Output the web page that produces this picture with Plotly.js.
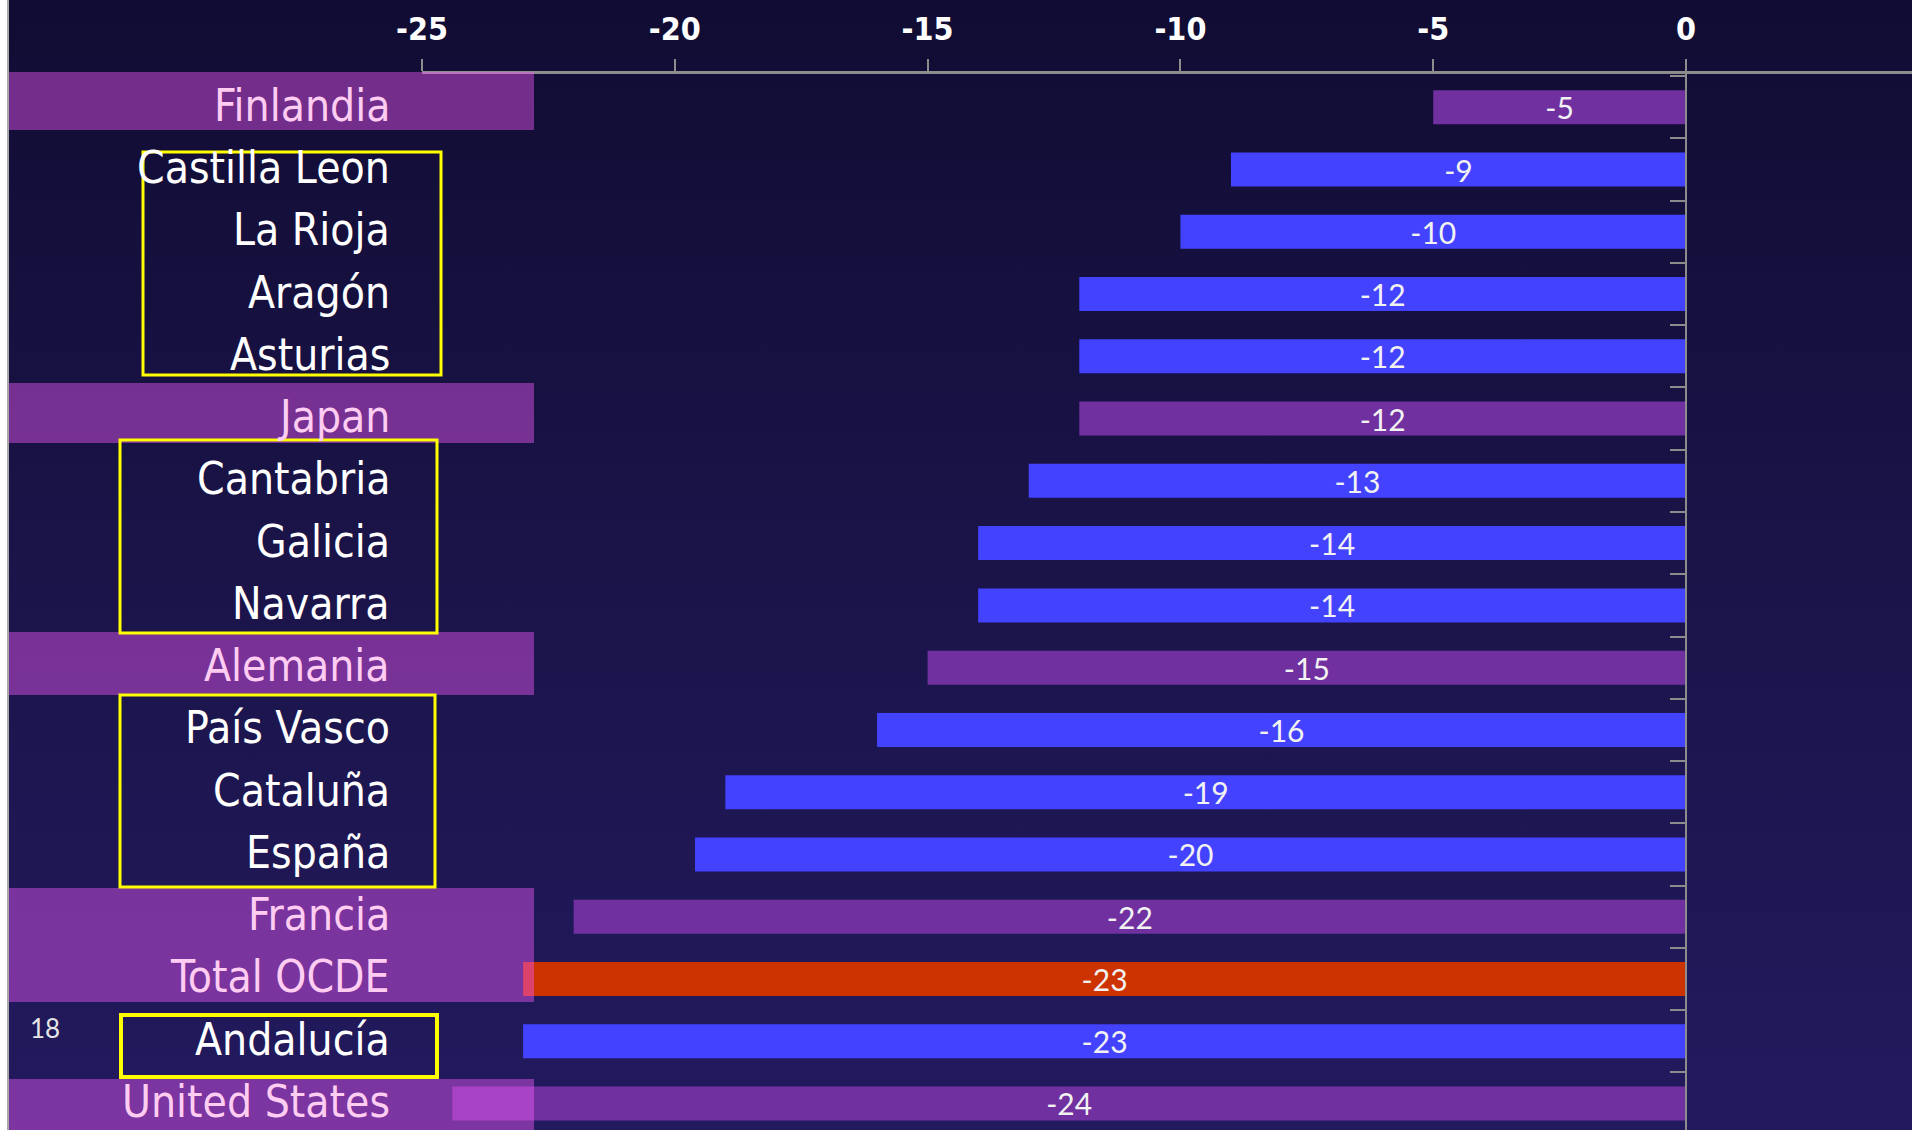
<!DOCTYPE html>
<html>
<head>
<meta charset="utf-8">
<script src="https://cdn.plot.ly/plotly-3.0.1.min.js"></script>
<style>
  html, body { margin: 0; padding: 0; background: #ffffff; }
  #chart { width: 1912px; height: 1130px; background: linear-gradient(to bottom, #110c33 0%, #1a1449 50%, #221a5e 100%); }
</style>
</head>
<body>
<div id="chart"></div>
<script>
// ---- data ----
const categories = ["Finlandia", "Castilla Leon", "La Rioja", "Aragón", "Asturias", "Japan", "Cantabria", "Galicia", "Navarra", "Alemania", "País Vasco", "Cataluña", "España", "Francia", "Total OCDE", "Andalucía", "United States"];
const values = [-5, -9, -10, -12, -12, -12, -13, -14, -14, -15, -16, -19, -19.6, -22, -23, -23, -24.4];
const kinds = ["country", "region", "region", "region", "region", "country", "region", "region", "region", "country", "region", "region", "region", "country", "oecd", "region", "country"];
const xTicks = [-25, -20, -15, -10, -5, 0];

// ---- styling ----
const kindColor = { country: "#7030a0", region: "#4343ff", oecd: "#cc3300" };
const labelColor = { country: "#ffccf2", region: "#ffffff", oecd: "#ffccf2" };
const condFont = "'DejaVu Sans Condensed', 'DejaVu Sans', sans-serif";

// pixel frame
const W = 1912, H = 1130, L = 422, T = 74;
const PW = W - L, PH = H - T;
const px = p => (p - L) / PW;          // pixel x -> paper x
const py = p => (H - p) / PH;          // pixel y -> paper y
const xMin = -25, pxPerUnit = (1686 - 422) / 25;
const xMax = xMin + PW / pxPerUnit;
const rowPitch = 62.26, firstRowCenter = 107.3;
const yTop = -(firstRowCenter - T) / rowPitch;
const yBottom = yTop + PH / rowPitch;

const barTrace = {
  type: "bar",
  orientation: "h",
  x: values,
  y: categories,
  marker: { color: kinds.map(k => kindColor[k]) },
  texttemplate: "%{x:.0f}",
  textposition: "inside",
  insidetextanchor: "middle",
  constraintext: "none",
  textangle: 0,
  textfont: { family: "Lato, 'Open Sans', sans-serif", size: 30, color: "#f2f2f2" },
  hoverinfo: "skip",
  showlegend: false
};

const gray = "#8c8c8c";
const shapes = [];
// white strip and grey line at the left edge
shapes.push({ type: "rect", xref: "paper", yref: "paper", x0: px(0), x1: px(7), y0: py(H), y1: py(0), fillcolor: "#ffffff", line: { width: 0 }, layer: "above" });
shapes.push({ type: "line", xref: "paper", yref: "paper", x0: px(8), x1: px(8), y0: py(H), y1: py(0), line: { color: "#a8a8a8", width: 2 }, layer: "above" });
// pink label boxes (countries)
const pinkBoxes = [[72, 130], [383, 443], [632, 695], [888, 1002], [1079, 1130]];
pinkBoxes.forEach(b => shapes.push({ type: "rect", xref: "paper", yref: "paper", x0: px(9), x1: px(534), y0: py(b[1]), y1: py(b[0]), fillcolor: "rgba(238,88,248,0.44)", line: { width: 0 }, layer: "above" }));
// yellow outline boxes (Spanish regions)
const yellowBoxes = [[143, 152, 441, 375, 3], [120, 440, 437, 633, 3], [120, 695, 435, 887, 3], [121, 1015, 437, 1077, 4]];
yellowBoxes.forEach(b => shapes.push({ type: "rect", xref: "paper", yref: "paper", x0: px(b[0]), x1: px(b[2]), y0: py(b[3]), y1: py(b[1]), fillcolor: "rgba(0,0,0,0)", line: { color: "#ffff00", width: b[4] }, layer: "above" }));

const annotations = categories.map((c, i) => ({
  xref: "paper", yref: "y", x: px(392), y: c, xanchor: "right", yanchor: "middle",
  text: c, showarrow: false, yshift: 2,
  font: { family: condFont, size: 44, color: labelColor[kinds[i]] }
}));
annotations.push({ xref: "paper", yref: "paper", x: px(28), y: py(1028), xanchor: "left", yanchor: "middle", text: "18", showarrow: false, font: { family: "Lato, sans-serif", size: 26, color: "#e6e6e6" } });

const layout = {
  width: W, height: H,
  margin: { l: L, r: 0, t: T, b: 0, pad: 0 },
  paper_bgcolor: "rgba(0,0,0,0)",
  plot_bgcolor: "rgba(0,0,0,0)",
  bargap: 0.454,
  showlegend: false,
  xaxis: {
    side: "top", range: [xMin, xMax], tickvals: xTicks, ticktext: xTicks.map(String),
    showline: true, linecolor: gray, linewidth: 3,
    ticks: "outside", ticklen: 12, tickwidth: 2, tickcolor: gray,
    ticklabelstandoff: 6,
    tickfont: { family: condFont, size: 32, color: "#ffffff", weight: "bold" },
    showgrid: false, zeroline: false, fixedrange: true
  },
  yaxis: {
    type: "category", categoryorder: "array", categoryarray: categories,
    range: [yBottom, yTop],
    anchor: "free", position: (0 - xMin) / (xMax - xMin),
    showline: true, linecolor: gray, linewidth: 2,
    ticks: "outside", ticklen: 15, tickwidth: 2, tickcolor: gray, tickson: "boundaries",
    showticklabels: false, showgrid: false, zeroline: false, fixedrange: true
  },
  shapes: shapes,
  annotations: annotations
};

Plotly.newPlot("chart", [barTrace], layout, { displayModeBar: false, staticPlot: true });
</script>
</body>
</html>
